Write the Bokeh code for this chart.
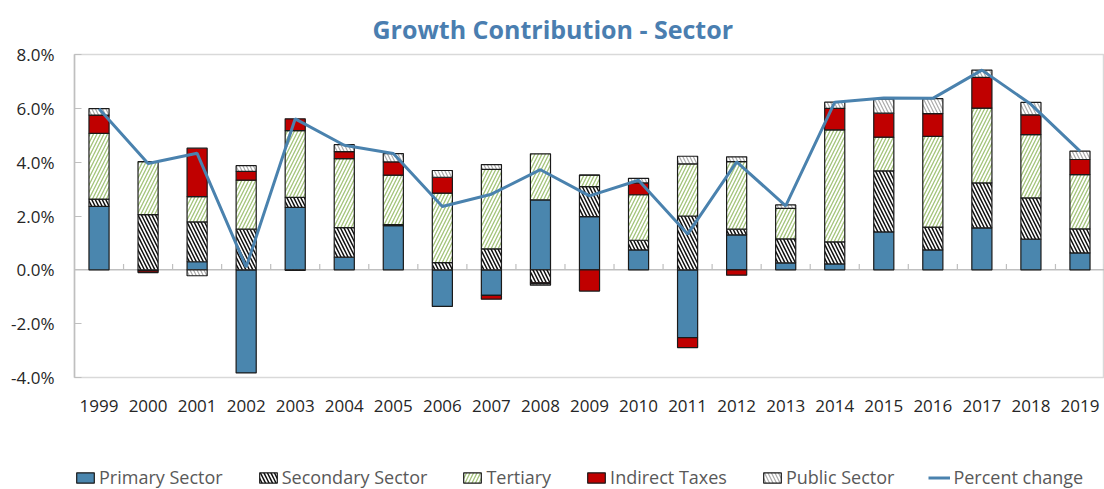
from bokeh.plotting import figure
from bokeh.layouts import column
from bokeh.models import (ColumnDataSource, FactorRange, Range1d, PrintfTickFormatter,
                          Span, Legend, LegendItem, FixedTicker)
from bokeh.transform import dodge
from bokeh.embed import file_html
from bokeh.resources import INLINE

years = [str(y) for y in range(1999, 2020)]
primary = [2.36, -0.04, 0.30, -3.83, 2.32, 0.47, 1.64, -1.36, -0.95, 2.60, 1.98,
           0.74, -2.52, 1.30, 0.26, 0.22, 1.41, 0.74, 1.56, 1.14, 0.63]
secondary = [0.27, 2.05, 1.48, 1.51, 0.37, 1.10, 0.04, 0.27, 0.78, -0.48, 1.11,
             0.36, 2.00, 0.21, 0.89, 0.82, 2.27, 0.85, 1.67, 1.53, 0.89]
tertiary = [2.44, 1.97, 0.94, 1.82, 2.48, 2.56, 1.84, 2.58, 2.95, 1.71, 0.43,
            1.69, 1.94, 2.51, 1.13, 4.16, 1.25, 3.37, 2.78, 2.35, 2.02]
indirect = [0.68, -0.06, 1.80, 0.33, 0.44, 0.26, 0.49, 0.59, -0.14, -0.03, -0.79,
            0.44, -0.37, -0.20, 0.00, 0.80, 0.89, 0.84, 1.14, 0.74, 0.56]
public = [0.24, 0.00, -0.22, 0.21, -0.02, 0.26, 0.31, 0.25, 0.18, -0.06, 0.00,
          0.17, 0.28, 0.18, 0.13, 0.23, 0.52, 0.56, 0.27, 0.46, 0.31]
pct_change = [5.98, 3.95, 4.33, 0.10, 5.61, 4.63, 4.32, 2.35, 2.81, 3.72, 2.75,
              3.33, 1.33, 4.01, 2.38, 6.23, 6.38, 6.37, 7.42, 6.15, 4.41]

series_names = ["Primary Sector", "Secondary Sector", "Tertiary", "Indirect Taxes", "Public Sector"]
series_vals = [primary, secondary, tertiary, indirect, public]
styles = [
    dict(fill_color="#4A86AE"),
    dict(fill_color="white", hatch_pattern="\\", hatch_color="#111111", hatch_weight=1.5, hatch_scale=7),
    dict(fill_color="white", hatch_pattern="/", hatch_color="#A3C47A", hatch_weight=1.3, hatch_scale=7),
    dict(fill_color="#C00000"),
    dict(fill_color="white", hatch_pattern="\\", hatch_color="#AAAAAA", hatch_weight=1.2, hatch_scale=7),
]
bar_line = dict(line_color="#1A1A1A", line_width=1.2)
line_color = "#4A82AE"

p = figure(width=1104, height=459, x_range=FactorRange(*years), y_range=Range1d(-4, 8),
           output_backend="svg", toolbar_location=None,
           min_border_left=74, min_border_right=0, min_border_top=54, min_border_bottom=82)

p.title.text = "Growth Contribution - Sector"
p.title.align = "left"
p.title.offset = 298
p.title.text_font = "Open Sans"
p.title.text_font_size = "25px"
p.title.text_font_style = "bold"
p.title.text_color = "#4A7EB0"
p.title.standoff = 17

p.xgrid.visible = False
p.ygrid.visible = False
p.outline_line_color = "#D9D9D9"
p.outline_line_width = 1.5

p.add_layout(Span(location=0, dimension="width", line_color="#BFBFBF", line_width=1.5, level="underlay"))

sources = []
pos_base = [0.0] * len(years)
neg_base = [0.0] * len(years)
for name, vals, st in zip(series_names, series_vals, styles):
    bottoms, tops = [], []
    for i, v in enumerate(vals):
        if v >= 0:
            b = pos_base[i]; t = b + v; pos_base[i] = t
        else:
            b = neg_base[i]; t = b + v; neg_base[i] = t
        bottoms.append(b); tops.append(t)
    src = ColumnDataSource(dict(year=years, bottom=bottoms, top=tops))
    sources.append(src)
    p.vbar(x="year", bottom="bottom", top="top", width=0.41, source=src, **bar_line, **st)

tick_src = ColumnDataSource(dict(year=years, y0=[0.0] * len(years), y1=[0.22] * len(years)))
p.segment(x0=dodge("year", 0.5, range=p.x_range), x1=dodge("year", 0.5, range=p.x_range),
          y0="y0", y1="y1", source=tick_src, line_color="#BFBFBF", line_width=1.2)

line_src = ColumnDataSource(dict(year=years, pct=pct_change))
p.line(x="year", y="pct", source=line_src, line_color=line_color, line_width=3)

p.yaxis.ticker = FixedTicker(ticks=[-4, -2, 0, 2, 4, 6, 8])
p.yaxis.formatter = PrintfTickFormatter(format="%.1f%%")
p.yaxis.axis_line_color = "#BFBFBF"
p.yaxis.axis_line_width = 1.5
p.yaxis.major_tick_in = 7
p.yaxis.major_tick_out = 0
p.yaxis.major_tick_line_color = "#BFBFBF"
p.yaxis.minor_tick_line_color = None
p.yaxis.major_label_standoff = 20
p.yaxis.major_label_text_font = "Open Sans"
p.yaxis.major_label_text_font_size = "17px"
p.yaxis.major_label_text_color = "#262626"

p.xaxis.axis_line_color = None
p.xaxis.major_tick_line_color = None
p.xaxis.major_label_standoff = 16
p.xaxis.major_label_text_font = "Open Sans"
p.xaxis.major_label_text_font_size = "17px"
p.xaxis.major_label_text_color = "#262626"

# legend strip below the chart (same data, drawn outside its visible y range)
q = figure(width=1104, height=30, x_range=p.x_range, y_range=Range1d(100, 101),
           output_backend="svg", toolbar_location=None, x_axis_type=None, y_axis_type=None,
           min_border_left=0, min_border_right=0, min_border_top=0, min_border_bottom=0)
q.outline_line_color = None
q.xgrid.visible = False
q.ygrid.visible = False
items = []
for name, st, src in zip(series_names, styles, sources):
    r = q.vbar(x="year", bottom="bottom", top="top", width=0.41, source=src, **bar_line, **st)
    items.append(LegendItem(label=name, renderers=[r]))
lr = q.line(x="year", y="pct", source=line_src, line_color=line_color, line_width=3)
items.append(LegendItem(label="Percent change", renderers=[lr]))
legend = Legend(items=items, orientation="horizontal", location=(0, 0),
                label_text_font="Open Sans", label_text_font_size="18px",
                label_text_color="#595959", glyph_width=22, glyph_height=13,
                label_standoff=3, spacing=34, padding=0, margin=0,
                border_line_color=None, background_fill_alpha=0)
q.add_layout(legend)

layout = column(p, q, spacing=0)
open("out.html", "w").write(file_html(layout, INLINE))
